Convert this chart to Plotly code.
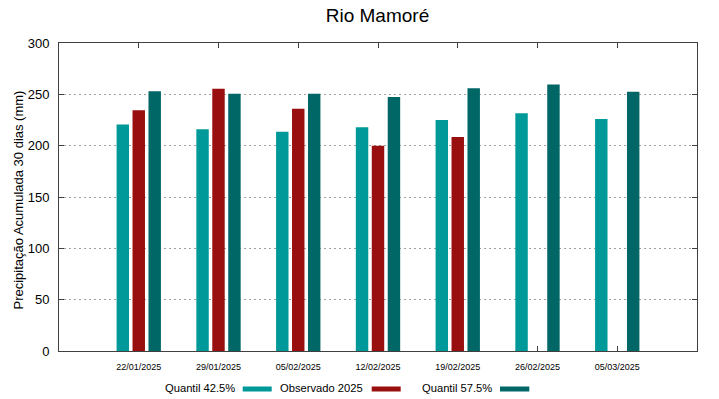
import plotly.graph_objects as go

dates = ["22/01/2025", "29/01/2025", "05/02/2025", "12/02/2025", "19/02/2025", "26/02/2025", "05/03/2025"]
q425 = [220.5, 216, 213.5, 218, 225, 231.5, 226]
obs2025 = [234.5, 255.5, 236, 200, 208.5, None, None]
q575 = [253, 250.5, 250.5, 247.5, 256, 259.5, 252.5]

names = ["Quantil 42.5%", "Observado 2025", "Quantil 57.5%"]
colors = ["#009999", "#990f0f", "#006666"]
series = [q425, obs2025, q575]

W, H = 719, 399
ML, MR, MT, MB = 59, 22, 43, 48
PW, PH = W - ML - MR, H - MT - MB

def px(x):
    return (x - ML) / PW

def py(y):
    return (H - MB - y) / PH

fig = go.Figure()
for n, c, s in zip(names, colors, series):
    fig.add_trace(go.Bar(x=dates, y=s, name=n, marker=dict(color=c, line=dict(width=0)), showlegend=False))

fig.update_layout(
    width=W, height=H,
    margin=dict(l=ML, r=MR, t=MT, b=MB),
    plot_bgcolor="white", paper_bgcolor="white",
    barmode="group", bargap=0.4, bargroupgap=0.22,
    font=dict(family="Liberation Sans, Arial, sans-serif", color="#000000"),
    title=dict(text="Rio Mamoré", x=377.5 / W, xanchor="center",
               y=1 - 15.5 / H, yanchor="middle", font=dict(size=19, color="#000000")),
    xaxis=dict(type="category", range=[-1, 7], showline=True, linecolor="#404040", linewidth=1,
               mirror="ticks", ticks="inside", ticklen=5, tickcolor="#404040",
               tickfont=dict(size=9), ticklabelstandoff=7, showgrid=False, layer="below traces"),
    yaxis=dict(range=[0, 300], tickvals=[0, 50, 100, 150, 200, 250, 300], showline=True,
               linecolor="#404040", linewidth=1, mirror="ticks", ticks="inside", ticklen=5,
               tickcolor="#404040", tickfont=dict(size=13), ticklabelstandoff=6,
               showgrid=True, gridcolor="#a0a0a0", griddash="2px,3px", gridwidth=1,
               zeroline=False, layer="below traces"),
)

fig.add_annotation(text="Precipitação Acumulada 30 dias (mm)", textangle=-90, xref="paper", yref="paper",
                   x=px(17.5), y=py(200), xanchor="center", yanchor="middle", showarrow=False,
                   font=dict(size=13, color="#000000"))

legend_items = [(236.7, 242.7, 271.7), (365, 371.7, 400.7), (494, 500, 529.3)]
for (tx, s0, s1), n, c in zip(legend_items, names, colors):
    fig.add_annotation(text=n, xref="paper", yref="paper", x=px(tx), y=py(388),
                       xanchor="right", yanchor="middle", showarrow=False,
                       font=dict(size=11.2, color="#000000"))
    fig.add_shape(type="rect", xref="paper", yref="paper", x0=px(s0), x1=px(s1),
                  y0=py(391.5), y1=py(386.5), fillcolor=c, line=dict(width=0))

fig.write_html("out.html", config={"displayModeBar": False},
               post_script="document.body.style.margin='0px';document.body.style.overflow='hidden';")
